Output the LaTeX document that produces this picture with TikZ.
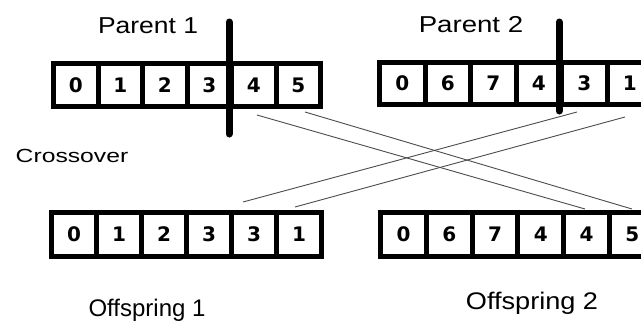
\documentclass[tikz,border=0pt]{standalone}
\usepackage{fontspec}
\newfontfamily\digitfont{DejaVu Sans}
\newfontfamily\handfont{Liberation Sans}
\tikzset{
  cell/.style={draw=black, line width=5pt, fill=white, inner sep=0pt, outer sep=0pt,
    minimum width=#1, minimum height=43pt,
    font=\digitfont\bfseries\fontsize{20}{20}\selectfont},
  cutline/.style={line width=7pt, line cap=round},
  link/.style={draw=black!70, line width=0.9pt},
  hand/.style={inner sep=0pt, font=\handfont\fontsize{#1}{#1}\selectfont},
}
\begin{document}
\begin{tikzpicture}[x=1pt,y=-1pt]
\useasboundingbox (0,0) rectangle (641,327);
\clip (0,0) rectangle (641,327);
\fill[white] (0,0) rectangle (641,327);

% links (drawn first)
\coordinate (a1) at (257,115); \coordinate (a2) at (585,209);
\coordinate (b1) at (305,112); \coordinate (b2) at (632,209);
\coordinate (c1) at (577,112); \coordinate (c2) at (243,202);
\coordinate (d1) at (625,117); \coordinate (d2) at (295,207);
\draw[link] (a1) -- (a2);
\draw[link] (b1) -- (b2);
\draw[link] (c1) -- (c2);
\draw[link] (d1) -- (d2);

% Parent 1
\foreach \v [count=\i from 0] in {0,1,2,3,4,5}
  \node[cell=44.5pt] (p1-\i) at ({75.75+44.5*\i},85) {\v};
% Parent 2
\foreach \v [count=\i from 0] in {0,6,7,4,3,1}
  \node[cell=45.5pt, minimum height=42pt] (p2-\i) at ({402.25+45.5*\i},83.5) {\v};
% Offspring 1
\foreach \v [count=\i from 0] in {0,1,2,3,3,1}
  \node[cell=45pt, minimum height=44pt] (o1-\i) at ({74+45*\i},234.5) {\v};
% Offspring 2
\foreach \v [count=\i from 0] in {0,6,7,4,4,5}
  \node[cell=45.75pt, minimum height=44pt] (o2-\i) at ({403.5+45.75*\i},234.5) {\v};

% cut points
\coordinate (cut1t) at (229,22); \coordinate (cut1b) at (229,134);
\coordinate (cut2t) at (559,22); \coordinate (cut2b) at (559,111);
\draw[cutline] (cut1t) -- (cut1b);
\draw[cutline] (cut2t) -- (cut2b);

% labels
\node[hand=23] (lp1) at (148,26) {\scalebox{1.15}[1]{Parent 1}};
\node[hand=23] (lp2) at (471,25) {\scalebox{1.2}[1]{Parent 2}};
\node[hand=19] (lcr) at (72,156) {\scalebox{1.3}[1]{Crossover}};
\node[hand=24] (lo1) at (147,310) {\scalebox{1.0}[1]{Offspring 1}};
\node[hand=24] (lo2) at (532,303) {\scalebox{1.13}[1]{Offspring 2}};
\end{tikzpicture}
\end{document}
